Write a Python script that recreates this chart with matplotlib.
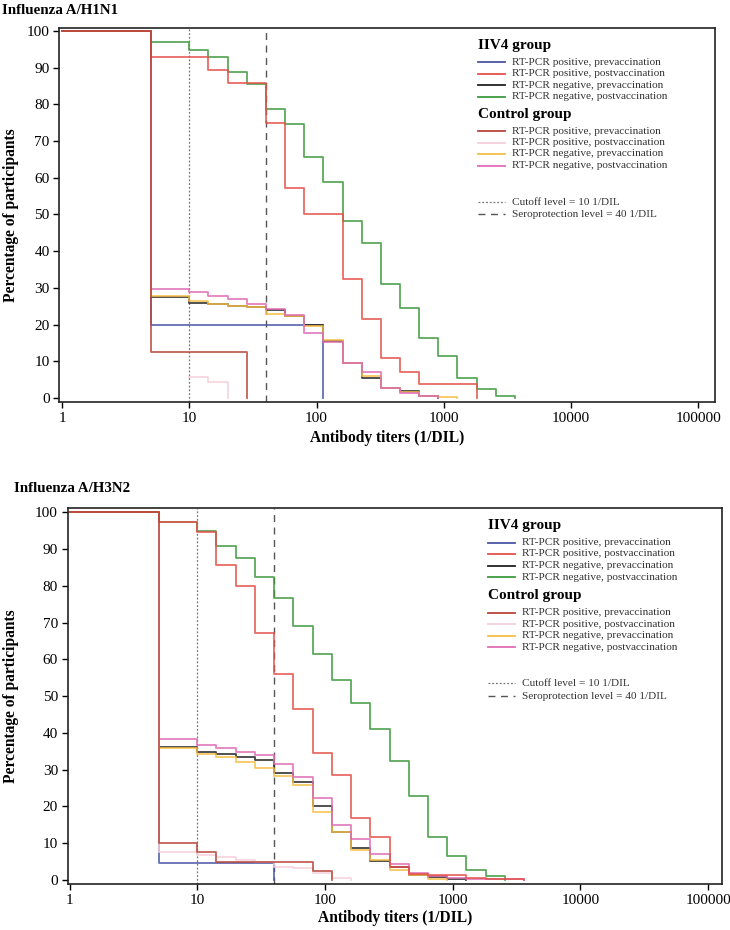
import numpy as np
import matplotlib
matplotlib.use("Agg")
import matplotlib.pyplot as plt
from matplotlib.lines import Line2D

plt.rcParams['font.family'] = ['Liberation Serif', 'DejaVu Serif']

# titer cut points (1/DIL); levels hold from one cut point to the next
titers = [1, 5, 10, 14.1, 20, 28.3, 40, 56.6, 80, 113, 160, 226, 320,
          453, 640, 905, 1280, 1810, 2560, 3620]
nan = np.nan

# Influenza A/H1N1, percent with titer >= level
h1_iiv4_pos_pre = [100, 20.0, 20.0, 20.0, 20.0, 20.0, 20.0, 20.0, 20.0]
h1_iiv4_pos_post = [100, 92.9, 92.9, 89.3, 85.8, 85.8, 75.0, 57.2, 50.1, 50.1,
                    32.4, 21.4, 10.8, 7.2, 3.7, 3.7, 3.7]
h1_iiv4_neg_pre = [100, 27.4, 26.0, 25.6, 25.1, 24.7, 24.0, 22.4, 19.9, 15.6,
                   9.4, 5.4, 2.6, 1.9, 0.4]
h1_iiv4_neg_post = [100, 97.1, 94.8, 92.8, 88.7, 85.5, 78.7, 74.7, 65.7, 58.8,
                    48.3, 42.3, 31.1, 24.6, 16.3, 11.4, 5.4, 2.4, 0.5]
h1_ctrl_pos_pre = [100, 12.4, 12.4, 12.4, 12.4]
h1_ctrl_pos_post = [nan, nan, 5.8, 4.3]
h1_ctrl_neg_pre = [100, 27.8, 26.4, 25.6, 25.1, 24.7, 22.9, 22.4, 19.6, 15.8,
                   9.4, 6.0, 2.8, 1.6, 0.4, 0.3]
h1_ctrl_neg_post = [100, 29.6, 28.8, 27.9, 26.9, 25.6, 24.2, 22.6, 17.8, 15.3,
                    9.6, 7.0, 2.6, 1.3, 0.4]

# Influenza A/H3N2
h3_iiv4_pos_pre = [100, 4.7, 4.7, 4.7, 4.7, 4.7]
h3_iiv4_pos_post = [100, 97.3, 94.6, 85.7, 80.0, 67.3, 56.0, 46.5, 34.6, 28.6,
                    16.9, 11.6, 3.4, 1.6, 1.4, 1.4, 0.6, 0.4, 0.3]
h3_iiv4_neg_pre = [100, 36.1, 34.9, 34.3, 33.4, 32.6, 29.0, 26.6, 20.1, 13.1,
                   8.6, 5.2, 3.6, 1.4, 0.7, 0.3]
h3_iiv4_neg_post = [100, 97.3, 94.9, 90.9, 87.7, 82.3, 76.8, 69.2, 61.5, 54.5,
                    48.1, 41.2, 32.4, 22.8, 11.6, 6.5, 2.7, 1.1]
h3_ctrl_pos_pre = [100, 10.0, 7.5, 5.0, 5.0, 5.0, 5.0, 5.0, 2.4]
h3_ctrl_pos_post = [100, 7.7, 6.8, 6.2, 5.4, 5.0, 3.6, 3.2, 1.8, 0.5]
h3_ctrl_neg_pre = [100, 35.8, 34.4, 33.4, 32.2, 30.4, 28.3, 25.8, 18.6, 13.1,
                   8.2, 5.4, 2.7, 1.4, 0.3]
h3_ctrl_neg_post = [100, 38.3, 36.7, 35.8, 34.9, 34.0, 31.5, 28.1, 22.3, 14.9,
                    11.2, 7.2, 4.3, 1.8, 1.1, 0.6, 0.4, 0.3, 0.2]

series_labels = ["RT-PCR positive, prevaccination", "RT-PCR positive, postvaccination",
                 "RT-PCR negative, prevaccination", "RT-PCR negative, postvaccination"]
iiv4_colors = ["#4a56a6", "#e4504a", "#222222", "#3f9a3f"]
ctrl_colors = ["#b8463c", "#f5d0da", "#f5bf45", "#df6cb4"]
x_ticks = [1, 10, 100, 1000, 10000, 100000]

W, H = 730, 930


def fx(p):
    return p / W


def fy(p):
    return 1 - p / H


def draw_curve(ax, levels, color):
    x = titers[:len(levels) + 1]
    y = list(levels) + [0]
    ax.step(x, y, where="post", color=color, lw=1.3, alpha=0.85)


def panel(box, xlim, ylim, iiv4, ctrl, title, title_xy, xlab_y, leg):
    l, t, r, b = box
    ax = fig.add_axes([fx(l), fy(b), fx(r - l), (b - t) / H])
    ax.set_xscale("log")
    ax.set_xlim(*xlim)
    ax.set_ylim(*ylim)
    ax.axvline(10, color="#777777", lw=0.9, ls=(0, (1.5, 1.5)))
    ax.axvline(40, color="#555555", lw=1.0, ls=(0, (5, 4)))
    # draw order: blue and lower curves first, red ones on top
    order = [(iiv4, iiv4_colors, 0), (iiv4, iiv4_colors, 2), (ctrl, ctrl_colors, 2),
             (ctrl, ctrl_colors, 3), (ctrl, ctrl_colors, 1), (iiv4, iiv4_colors, 3),
             (iiv4, iiv4_colors, 1), (ctrl, ctrl_colors, 0)]
    for data, cols, i in order:
        draw_curve(ax, data[i], cols[i])
    ax.set_xticks(x_ticks)
    ax.set_xticklabels([str(v) for v in x_ticks])
    ax.xaxis.set_minor_locator(matplotlib.ticker.NullLocator())
    ax.set_yticks(range(0, 101, 10))
    ax.tick_params(labelsize=11, length=4, width=1, pad=3)
    for s in ax.spines.values():
        s.set_linewidth(1.2)
        s.set_color("#222222")

    fig.text(fx(title_xy[0]), fy(title_xy[1]), title, fontsize=10.8,
             fontweight="bold", ha="left", va="center")
    fig.text(fx((l + r) / 2), fy(xlab_y), "Antibody titers (1/DIL)", fontsize=11.2,
             fontweight="bold", ha="center", va="center")
    fig.text(fx(11), fy((t + b) / 2), "Percentage of participants", fontsize=11.2,
             fontweight="bold", ha="center", va="center", rotation=90)

    # legend block
    lx0, lx1, tx = leg["x"]
    fig.text(fx(lx0), fy(leg["h1"]), "IIV4 group", fontsize=11, fontweight="bold",
             ha="left", va="center")
    for yy, lab, c in zip(leg["r1"], series_labels, iiv4_colors):
        fig.add_artist(Line2D([fx(lx0), fx(lx1)], [fy(yy), fy(yy)], color=c, lw=1.3))
        fig.text(fx(tx), fy(yy), lab, fontsize=8.1, ha="left", va="center", color="#333333")
    fig.text(fx(lx0), fy(leg["h2"]), "Control group", fontsize=11, fontweight="bold",
             ha="left", va="center")
    for yy, lab, c in zip(leg["r2"], series_labels, ctrl_colors):
        fig.add_artist(Line2D([fx(lx0), fx(lx1)], [fy(yy), fy(yy)], color=c, lw=1.3))
        fig.text(fx(tx), fy(yy), lab, fontsize=8.1, ha="left", va="center", color="#333333")
    yc, ys = leg["ref"]
    fig.add_artist(Line2D([fx(lx0), fx(lx1)], [fy(yc), fy(yc)], color="#777777", lw=0.9,
                          ls=(0, (1.5, 1.5))))
    fig.text(fx(tx), fy(yc), "Cutoff level = 10 1/DIL", fontsize=8.1, ha="left",
             va="center", color="#333333")
    fig.add_artist(Line2D([fx(lx0), fx(lx1)], [fy(ys), fy(ys)], color="#555555", lw=1.0,
                          ls=(0, (5, 4))))
    fig.text(fx(tx), fy(ys), "Seroprotection level = 40 1/DIL", fontsize=8.1, ha="left",
             va="center", color="#333333")
    return ax


fig = plt.figure(figsize=(7.3, 9.3), dpi=100)

panel((59.3, 27.7, 715, 402), (0.952, 1.35e5), (-1.1, 100.9),
      [h1_iiv4_pos_pre, h1_iiv4_pos_post, h1_iiv4_neg_pre, h1_iiv4_neg_post],
      [h1_ctrl_pos_pre, h1_ctrl_pos_post, h1_ctrl_neg_pre, h1_ctrl_neg_post],
      "Influenza A/H1N1", (2, 10), 438,
      {"x": (478, 505, 511.5), "h1": 45, "r1": [62.3, 73.7, 85, 96.7],
       "h2": 114.3, "r2": [131, 142.7, 154, 165.7], "ref": (202.3, 214.3)})

panel((67.7, 508.3, 722, 884.3), (0.966, 1.285e5), (-1.17, 101.1),
      [h3_iiv4_pos_pre, h3_iiv4_pos_post, h3_iiv4_neg_pre, h3_iiv4_neg_post],
      [h3_ctrl_pos_pre, h3_ctrl_pos_post, h3_ctrl_neg_pre, h3_ctrl_neg_post],
      "Influenza A/H3N2", (14, 489), 918,
      {"x": (488, 515, 521.7), "h1": 525.7, "r1": [542.7, 553.7, 565.7, 577.3],
       "h2": 595, "r2": [612.7, 624.3, 635.7, 647.3], "ref": (683.3, 696)})

fig.savefig("out.png", dpi=100)
